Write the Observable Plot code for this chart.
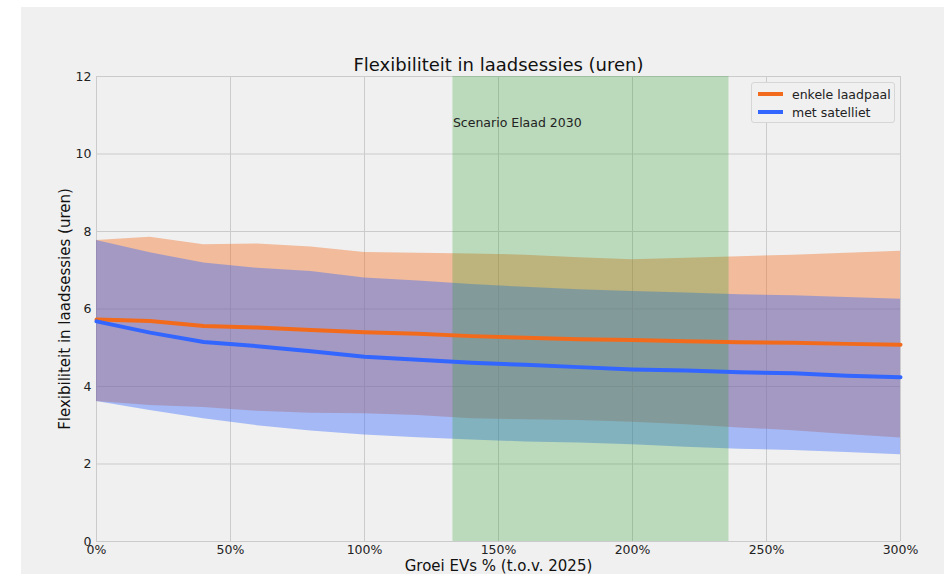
<!DOCTYPE html>
<html>
<head>
<meta charset="utf-8">
<script src="https://cdn.jsdelivr.net/npm/d3@7"></script>
<script src="https://cdn.jsdelivr.net/npm/@observablehq/plot@0.6"></script>
<style>
  html, body { margin: 0; padding: 0; background: #ffffff; }
  #wrap { position: relative; width: 944px; height: 574px; overflow: hidden; font-family: "DejaVu Sans", sans-serif; }
  #panel { position: absolute; left: 21px; top: 7px; width: 923px; height: 567px; background: #f0f0f0; }
  #chart { position: absolute; left: 0; top: 0; }
  #legend { position: absolute; left: 751px; top: 82px; width: 142px; height: 39px; border: 1px solid #d6d6d6; border-radius: 3px; background: #f0f0f0; font-size: 12.5px; color: #222; }
  .item { position: absolute; left: 6px; height: 16px; display: flex; align-items: center; }
  .sw { width: 25px; height: 4px; margin-right: 9px; }
</style>
</head>
<body>
<div id="wrap">
  <div id="panel"></div>
  <div id="chart"></div>
  <div id="legend"></div>
</div>
<script>
const title = "Flexibiliteit in laadsessies (uren)";
const xLabel = "Groei EVs % (t.o.v. 2025)";
const yLabel = "Flexibiliteit in laadsessies (uren)";
const seriesNames = ["enkele laadpaal", "met satelliet"];
const seriesColors = ["#f26b1d", "#3366ff"];
const scenarioLabel = "Scenario Elaad 2030";
const scenarioBand = [133, 236];
const scenarioLabelY = 10.8;

const xTicks = [0, 50, 100, 150, 200, 250, 300];
const yTicks = [0, 2, 4, 6, 8, 10, 12];

const growth     = [0, 20, 40, 60, 80, 100, 120, 140, 160, 180, 200, 220, 240, 260, 280, 300];
const enkeleMean = [5.73, 5.69, 5.56, 5.52, 5.46, 5.40, 5.36, 5.30, 5.26, 5.22, 5.20, 5.17, 5.14, 5.13, 5.10, 5.08];
const enkeleHigh = [7.77, 7.85, 7.66, 7.68, 7.60, 7.46, 7.44, 7.42, 7.39, 7.32, 7.27, 7.31, 7.35, 7.39, 7.44, 7.49];
const enkeleLow  = [3.61, 3.51, 3.46, 3.36, 3.31, 3.30, 3.25, 3.17, 3.14, 3.12, 3.08, 3.01, 2.93, 2.86, 2.76, 2.67];
const satMean    = [5.68, 5.39, 5.15, 5.04, 4.91, 4.77, 4.69, 4.61, 4.56, 4.50, 4.44, 4.41, 4.37, 4.34, 4.28, 4.24];
const satHigh    = [7.77, 7.45, 7.19, 7.05, 6.97, 6.80, 6.72, 6.63, 6.56, 6.50, 6.45, 6.41, 6.37, 6.34, 6.30, 6.25];
const satLow     = [3.61, 3.38, 3.17, 2.99, 2.85, 2.75, 2.68, 2.62, 2.57, 2.54, 2.50, 2.43, 2.38, 2.35, 2.30, 2.24];

const enkele = growth.map((g, i) => ({x: g, mean: enkeleMean[i], lo: enkeleLow[i], hi: enkeleHigh[i]}));
const sat = growth.map((g, i) => ({x: g, mean: satMean[i], lo: satLow[i], hi: satHigh[i]}));

const chart = Plot.plot({
  width: 944,
  height: 574,
  marginLeft: 96,
  marginRight: 44,
  marginTop: 76,
  marginBottom: 33,
  style: { fontFamily: "DejaVu Sans, sans-serif", fontSize: "12.5px", color: "#222", background: "transparent", overflow: "visible" },
  x: { domain: [0, 300], label: null },
  y: { domain: [0, 12], label: null },
  marks: [
    Plot.gridX(xTicks, { stroke: "#cbcbcb", strokeOpacity: 1, strokeWidth: 1 }),
    Plot.gridY(yTicks, { stroke: "#cbcbcb", strokeOpacity: 1, strokeWidth: 1 }),
    Plot.areaY(enkele, { x: "x", y1: "lo", y2: "hi", fill: seriesColors[0], fillOpacity: 0.4 }),
    Plot.areaY(sat, { x: "x", y1: "lo", y2: "hi", fill: seriesColors[1], fillOpacity: 0.4 }),
    Plot.rect([scenarioBand], { x1: d => d[0], x2: d => d[1], y1: 0, y2: 12, fill: "#2ca02c", fillOpacity: 0.27 }),
    Plot.line(enkele, { x: "x", y: "mean", stroke: seriesColors[0], strokeWidth: 4 }),
    Plot.line(sat, { x: "x", y: "mean", stroke: seriesColors[1], strokeWidth: 4 }),
    Plot.text([scenarioLabel], { x: scenarioBand[0], y: scenarioLabelY, text: d => d, textAnchor: "start", fontSize: 12.5, fill: "#222" }),
    Plot.axisX(xTicks, { tickSize: 0, tickPadding: 4, tickFormat: d => d + "%", label: null, fontSize: 12.5, fill: "#222" }),
    Plot.axisY(yTicks, { tickSize: 0, tickPadding: 5, label: null, fontSize: 12.5, fill: "#222" }),
    Plot.text([title], { frameAnchor: "top", dy: -11, lineAnchor: "middle", text: d => d, fontSize: 18, fill: "#111" }),
    Plot.text([xLabel], { frameAnchor: "bottom", dy: 25, lineAnchor: "middle", text: d => d, fontSize: 15, fill: "#111" }),
    Plot.text([yLabel], { frameAnchor: "left", dx: -31, rotate: -90, textAnchor: "middle", lineAnchor: "middle", text: d => d, fontSize: 15, fill: "#111" })
  ]
});
document.getElementById("chart").appendChild(chart);

const legend = document.getElementById("legend");
seriesNames.forEach((name, i) => {
  const item = document.createElement("div");
  item.className = "item";
  item.style.top = (i === 0 ? 3 : 21) + "px";
  const sw = document.createElement("div");
  sw.className = "sw";
  sw.style.background = seriesColors[i];
  const label = document.createElement("span");
  label.textContent = name;
  item.appendChild(sw);
  item.appendChild(label);
  legend.appendChild(item);
});
</script>
</body>
</html>
